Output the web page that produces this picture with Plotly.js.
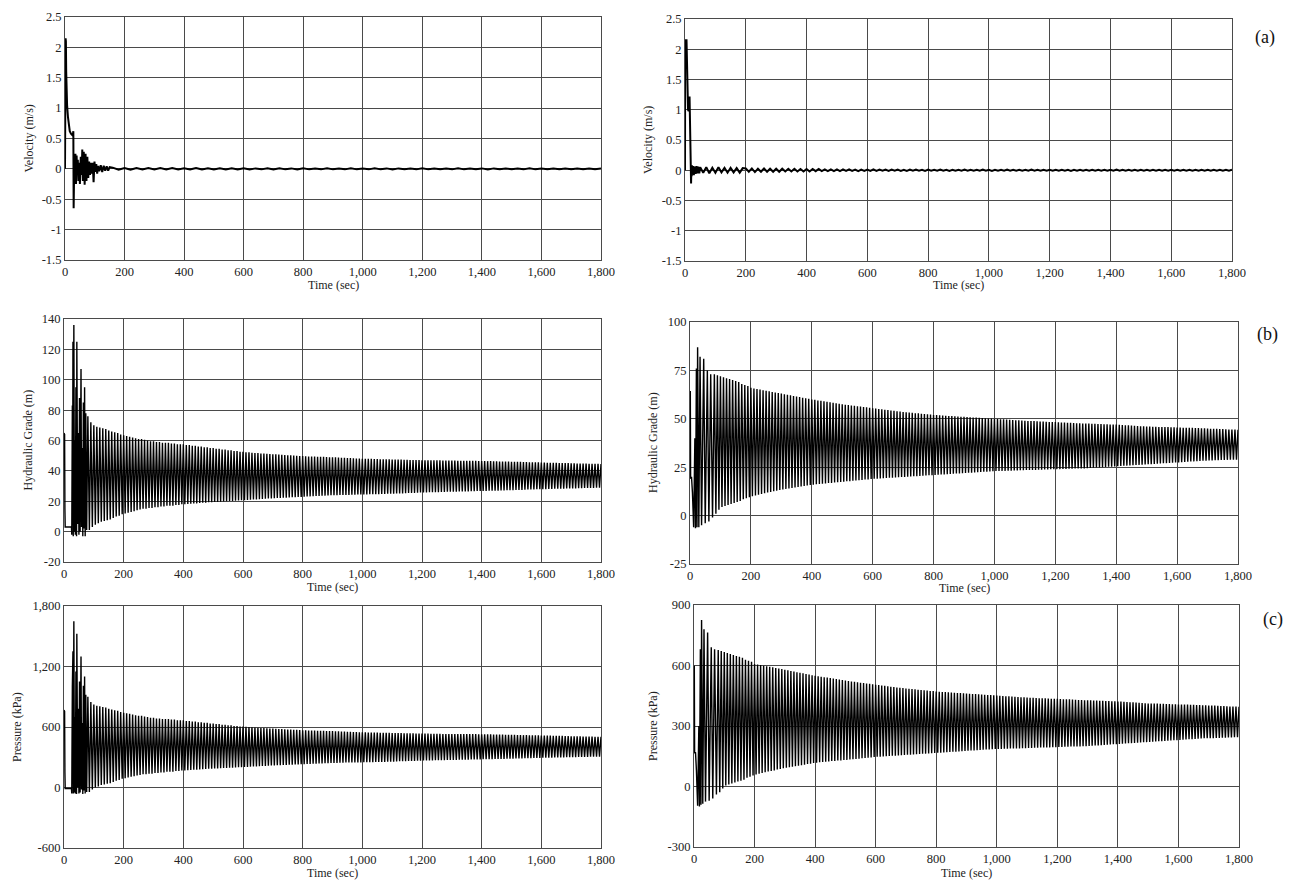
<!DOCTYPE html>
<html>
<head>
<meta charset="utf-8">
<script src="https://cdn.plot.ly/plotly-3.0.1.min.js"></script>
<style>html,body{margin:0;padding:0;background:#fff;}#chart{width:1298px;height:881px;}</style>
</head>
<body>
<div id="chart"></div>
<script>
// ---------------- tick labels ----------------
const X_TICKS = [0,200,400,600,800,1000,1200,1400,1600,1800];
const X_TICKTEXT = ['0','200','400','600','800','1,000','1,200','1,400','1,600','1,800'];
const VEL_TICKS = [-1.5,-1,-0.5,0,0.5,1,1.5,2,2.5];
const VEL_TICKTEXT = ['-1.5','-1','-0.5','0','0.5','1','1.5','2','2.5'];
const HL_TICKS = [-20,0,20,40,60,80,100,120,140];
const HL_TICKTEXT = ['-20','0','20','40','60','80','100','120','140'];
const HR_TICKS = [-25,0,25,50,75,100];
const HR_TICKTEXT = ['-25','0','25','50','75','100'];
const PL_TICKS = [-600,0,600,1200,1800];
const PL_TICKTEXT = ['-600','0','600','1,200','1,800'];
const PR_TICKS = [-300,0,300,600,900];
const PR_TICKTEXT = ['-300','0','300','600','900'];
const PANEL_LABELS = ['(a)','(b)','(c)'];

// ---------------- (a) velocity, left ----------------
const velL_early_t = [0,1,2,3,4,5,7,10,13,16,20,24,27,28,29,31,33,35,37,39,41,43,45,48,50,53,56,58,60,63,66,69,72,75,78,81,84,87,90,93,96,99,102,105,108,111,115,120,125,130,135,140,145,150];
const velL_early_v = [0,1.2,2.15,2.1,1.6,1.3,1.05,0.85,0.7,0.62,0.58,0.56,0.58,0.62,-0.65,0.05,-0.2,0.25,-0.25,0.22,-0.1,0.15,-0.2,0.1,-0.25,0.2,-0.1,0.32,-0.2,0.28,-0.26,0.25,-0.2,0.2,-0.15,0.12,-0.1,0.1,-0.08,0.1,-0.22,0.12,-0.05,0.08,-0.08,0.05,-0.04,0.06,-0.05,0.05,-0.03,0.04,-0.03,0.03];
const velL_tail_start = 160, velL_tail_step = 20;
const velL_tail = [
 0.02,-0.015,0.015,-0.015,0.015,-0.01,0.015,-0.01,0.015,-0.01,
 0.015,-0.01,0.01,-0.01,0.015,-0.008,0.01,-0.01,0.01,-0.008,
 0.01,-0.008,0.01,-0.01,0.008,-0.008,0.01,-0.008,0.01,-0.008,
 0.008,-0.01,0.01,-0.008,0.008,-0.008,0.01,-0.008,0.008,-0.008,
 0.01,-0.008,0.008,-0.008,0.01,-0.008,0.008,-0.01,0.008,-0.008,
 0.008,-0.008,0.01,-0.008,0.008,-0.008,0.008,-0.008,0.01,-0.008,
 0.008,-0.008,0.008,-0.01,0.008,-0.008,0.008,-0.008,0.008,-0.008,
 0.01,-0.008,0.008,-0.008,0.008,-0.008,0.008,-0.008,0.008,-0.008,
 0.008,-0.008,0.008];

// ---------------- (a) velocity, right ----------------
const velR_early_t = [0,0.5,5,6,7,8,10,12,14,15,16,17,18,19,20,21,22,23,25,27,29,32,35,38,41,44,47];
const velR_early_v = [0,2.15,2.15,1.75,1.3,1.08,1.0,0.98,1.0,1.22,0.7,0.3,0.12,0.25,-0.22,0.05,-0.1,0.08,-0.05,0.07,-0.08,0.06,-0.06,0.07,-0.05,0.06,-0.05];
const velR_tail_start = 50, velR_tail_step = 10;
const velR_tail = [
 0.05,-0.04,0.05,-0.05,0.04,-0.04,0.05,-0.035,0.04,-0.04,0.04,-0.035,0.035,-0.04,0.035,
 0.03,-0.025,0.03,-0.03,0.025,-0.025,0.03,-0.025,0.025,-0.025,0.025,-0.025,0.025,-0.02,0.025,
 -0.02,0.025,-0.02,0.02,-0.02,0.02,-0.02,0.02,-0.015,0.02,-0.015,0.015,-0.015,0.015,-0.015,
 0.015,-0.015,0.015,-0.01,0.015,-0.01,0.01,-0.015,0.01,-0.01,
 0.01,-0.01,0.015,-0.01,0.01,-0.008,0.01,-0.01,0.01,-0.008,
 0.01,-0.01,0.008,-0.01,0.01,-0.008,0.01,-0.008,0.008,-0.01,
 0.01,-0.008,0.008,-0.008,0.01,-0.008,0.008,-0.01,0.008,-0.008,
 0.008,-0.008,0.01,-0.008,0.008,-0.008,0.008,-0.008,0.01,-0.008,
 0.008,-0.01,0.008,-0.008,0.008,-0.008,0.01,-0.008,0.008,-0.008,
 0.008,-0.008,0.008,-0.008,0.01,-0.008,0.008,-0.008,0.008,-0.008,
 0.008,-0.008,0.008,-0.008,0.008,-0.008,0.008,-0.01,0.008,-0.008,
 0.008,-0.008,0.008,-0.008,0.008,-0.008,0.008,-0.008,0.008,-0.008,
 0.008,-0.008,0.01,-0.008,0.008,-0.008,0.008,-0.008,0.008,-0.008,
 0.008,-0.008,0.008,-0.008,0.008,-0.008,0.008,-0.008,0.008,-0.008,
 0.008,-0.008,0.008,-0.008,0.008,-0.008,0.008,-0.008,0.008,-0.008,
 0.008,-0.008,0.008,-0.008,0.008,-0.008,0.008,-0.008,0.008,-0.008,
 0.008];

// ---------------- oscillation timing (peaks every 10 s, troughs between) ----------------
const OSC_START = 80, OSC_PERIOD = 10;

// ---------------- (b) hydraulic grade, left ----------------
const hgL_early_t = [0,2,3,4,25,26,28,29,30,31,33,35,37,38,40,42,43,46,48,50,52,54,57,59,61,63,65,67,69,71,73,76];
const hgL_early_v = [65,64,15,3,3,-2,83,20,125,-3,136,0,60,-2,95,-3,125,5,65,-2,88,0,107,3,55,-3,85,2,95,-3,78,1];
const hgL_peaks = [
 76,72,
 70,69,68.5,68,67.5,66.5,66,65.5,65,64,
 63.5,63,62.5,62,61.5,61,61,60.5,60,59.5,
 59.5,59,59,58.5,58.5,58.5,58,58,57.5,57.5,
 57.5,57,57,56.5,56.5,56,56,55.5,55.5,55,
 55,54.5,54.5,54,54,53.5,53.5,53,53,52.5,
 52.5,52.3,52.2,52,51.8,51.7,51.5,51.4,51.2,51.1,
 51,50.9,50.7,50.6,50.5,50.3,50.2,50.1,50,49.8,
 49.7,49.6,49.5,49.5,49.4,49.3,49.2,49.2,49.1,49,
 49,48.9,48.8,48.7,48.6,48.5,48.4,48.3,48.2,48.1,
 48,48,47.9,47.9,47.8,47.8,47.7,47.7,47.6,47.6,
 47.5,47.5,47.4,47.4,47.3,47.3,47.2,47.2,47.1,47.1,
 47,47,47,46.9,46.9,46.9,46.9,46.8,46.8,46.8,
 46.8,46.8,46.7,46.7,46.7,46.7,46.6,46.6,46.6,46.5,
 46.5,46.5,46.4,46.4,46.3,46.3,46.2,46.2,46.1,46.1,
 46,46,45.9,45.9,45.8,45.8,45.7,45.7,45.6,45.6,
 45.5,45.5,45.4,45.4,45.3,45.3,45.2,45.2,45.1,45.1,
 45,45,44.9,44.9,44.8,44.8,44.7,44.7,44.6,44.6,
 44.5];
const hgL_troughs = [
 1,3,
 4.5,5.5,6.5,7,7.5,8,9,10,10.5,11.5,
 12,12.5,13,13.5,14,14.5,15,15,15.5,15.5,
 16,16,16.5,16.5,17,17,17,17.5,17.5,18,
 18,18.2,18.3,18.5,18.6,18.8,19,19.1,19.3,19.4,
 19.5,19.6,19.7,19.9,20,20.1,20.2,20.4,20.5,20.6,
 20.7,20.8,21,21.1,21.2,21.4,21.5,21.6,21.8,21.9,
 22,22.1,22.2,22.3,22.4,22.5,22.6,22.7,22.8,22.9,
 23,23.1,23.2,23.3,23.4,23.5,23.6,23.7,23.8,23.9,
 24,24,24.1,24.1,24.2,24.2,24.3,24.3,24.4,24.4,
 24.5,24.5,24.6,24.6,24.7,24.7,24.8,24.8,24.9,24.9,
 25,25.1,25.2,25.2,25.3,25.4,25.5,25.5,25.6,25.7,
 25.8,25.8,25.9,25.9,26,26,26.1,26.1,26.2,26.2,
 26.3,26.3,26.4,26.4,26.5,26.5,26.6,26.6,26.7,26.7,
 26.8,26.8,26.9,26.9,27,27,27.1,27.1,27.2,27.2,
 27.3,27.4,27.4,27.5,27.6,27.7,27.7,27.8,27.9,27.9,
 28,28,28.1,28.1,28.2,28.2,28.3,28.3,28.4,28.4,
 28.5,28.5,28.6,28.6,28.7,28.7,28.8,28.8,28.9,28.9];

// ---------------- (b) hydraulic grade, right ----------------
const hgR_early_t = [0,1,2,5,8,12,16,18,21,23,25,29,33,38,45,50,57,62,68,74];
const hgR_early_v = [64,64,19,20,12,-6,40,-6.5,76,-6,87,-6,82,-5,81,-4,75,-3,73,-1];
const hgR_peaks = [
 73,72.5,
 72,71.5,71,70.5,70,69.5,69,68,67.5,67,
 66,65.7,65.4,65.1,64.8,64.5,64.2,63.9,63.6,63.3,
 63,62.7,62.4,62.1,61.8,61.5,61.2,60.9,60.6,60.3,
 60,59.8,59.5,59.3,59,58.8,58.5,58.3,58,57.8,
 57.5,57.3,57.1,56.9,56.7,56.5,56.3,56.1,55.9,55.7,
 55.5,55.3,55.1,54.9,54.7,54.5,54.3,54.1,53.9,53.7,
 53.5,53.4,53.2,53.1,52.9,52.8,52.6,52.5,52.3,52.2,
 52,51.9,51.8,51.7,51.6,51.5,51.4,51.3,51.2,51.1,
 51,50.9,50.8,50.7,50.6,50.5,50.4,50.3,50.2,50.1,
 50,49.9,49.8,49.7,49.6,49.5,49.4,49.3,49.2,49.1,
 49,48.9,48.9,48.8,48.7,48.6,48.6,48.5,48.4,48.4,
 48.3,48.2,48.1,48.1,48,47.9,47.8,47.7,47.7,47.6,
 47.5,47.5,47.4,47.4,47.3,47.3,47.2,47.2,47.1,47.1,
 47,46.9,46.8,46.7,46.6,46.5,46.4,46.3,46.2,46.1,
 46,46,45.9,45.9,45.8,45.8,45.7,45.7,45.6,45.6,
 45.5,45.5,45.4,45.4,45.3,45.3,45.2,45.2,45.1,45.1,
 45,44.9,44.9,44.8,44.7,44.7,44.6,44.5,44.5,44.4,
 44.3];
const hgR_troughs = [
 1,3,
 4.5,5,5.5,6,6.5,7,7.5,8.5,9,9.5,
 10,10.4,10.8,11.2,11.5,11.9,12.2,12.6,12.9,13.2,
 13.5,13.8,14,14.3,14.5,14.8,15,15.3,15.5,15.8,
 16,16.2,16.3,16.5,16.6,16.8,16.9,17.1,17.2,17.4,
 17.5,17.7,17.8,18,18.1,18.3,18.4,18.6,18.7,18.9,
 19,19.1,19.2,19.3,19.4,19.5,19.6,19.7,19.8,19.9,
 20,20.1,20.2,20.3,20.4,20.5,20.6,20.7,20.8,20.9,
 21,21.1,21.2,21.3,21.4,21.5,21.6,21.7,21.8,21.9,
 22,22.1,22.2,22.3,22.4,22.5,22.6,22.7,22.8,22.9,
 23,23,23.1,23.1,23.2,23.2,23.3,23.3,23.4,23.4,
 23.5,23.5,23.6,23.6,23.7,23.7,23.8,23.8,23.9,23.9,
 24,24,24.1,24.1,24.2,24.2,24.3,24.3,24.4,24.4,
 24.5,24.6,24.7,24.8,24.9,25,25.1,25.2,25.3,25.4,
 25.5,25.6,25.7,25.8,25.9,26,26.1,26.2,26.3,26.4,
 26.5,26.6,26.7,26.8,26.9,27,27.1,27.2,27.3,27.4,
 27.5,27.6,27.7,27.8,27.9,28,28.1,28.2,28.3,28.4,
 28.5,28.5,28.6,28.6,28.7,28.7,28.8,28.8,28.9,28.9];

// ---------------- (c) pressure, left ----------------
const prL_early_t = [0,2,3,4,25,26,28,29,30,31,33,35,37,38,40,42,43,46,48,50,52,54,57,59,61,63,65,67,69,71,73,76];
const prL_early_v = [768,755,150,-10,-10,-60,1000,200,1350,-60,1650,-50,700,-60,1150,-65,1525,0,780,-60,1050,-50,1300,-20,640,-65,1010,-30,1100,-60,920,-45];
const prL_peaks = [
 900,849,
 824,811,805,799,793,780,774,767,761,748,
 742,736,730,723,717,711,711,704,698,692,
 692,685,685,679,679,679,673,673,667,667,
 667,660,660,654,654,648,648,641,641,635,
 635,629,629,622,622,616,616,610,610,604,
 604,601,600,597,595,593,591,590,587,586,
 585,583,581,580,578,576,575,573,572,569,
 568,567,566,566,564,563,562,562,561,559,
 559,558,557,556,554,553,552,551,549,548,
 547,547,546,546,544,544,543,543,542,542,
 541,541,539,539,538,538,537,537,535,535,
 534,534,534,532,532,532,532,531,531,531,
 531,531,530,530,530,530,529,529,529,528,
 528,528,527,527,525,525,524,524,523,523,
 522,522,520,520,519,519,518,518,517,517,
 515,515,514,514,513,513,512,512,510,510,
 509,509,508,508,506,506,505,505,504,504,
 503];
const prL_troughs = [
 -45,-20,
 -1,11,24,30,37,43,55,68,74,87,
 93,100,106,112,118,125,131,131,137,137,
 144,144,150,150,156,156,156,163,163,169,
 169,171,173,175,176,179,181,183,185,186,
 188,189,190,193,194,195,197,199,200,202,
 203,204,207,208,209,212,213,214,217,218,
 219,220,222,223,224,226,227,228,229,231,
 232,233,234,236,237,238,239,241,242,243,
 244,244,246,246,247,247,248,248,249,249,
 251,251,252,252,253,253,254,254,256,256,
 257,258,260,260,261,262,263,263,265,266,
 267,267,268,268,270,270,271,271,272,272,
 273,273,275,275,276,276,277,277,278,278,
 280,280,281,281,282,282,283,283,285,285,
 286,287,287,289,290,291,291,292,294,294,
 295,295,296,296,297,297,299,299,300,300,
 301,301,302,302,304,304,305,305,306,306];

// ---------------- (c) pressure, right ----------------
const prR_early_t = [0,1,2,5,8,12,16,18,21,23,25,29,33,38,45,50,57,62,68,74];
const prR_early_v = [595,595,165,170,80,-95,300,-99,680,-90,826,-85,780,-75,764,-70,690,-60,680,-40];
const prR_peaks = [
 677,672,
 667,662,657,652,647,643,638,628,623,618,
 608,605,602,599,596,594,591,588,585,582,
 579,576,573,570,567,564,561,558,555,552,
 549,547,544,542,540,538,535,533,530,528,
 525,523,521,519,517,515,513,511,509,507,
 505,503,501,499,497,495,493,491,490,488,
 486,485,483,482,480,479,477,476,474,473,
 471,470,469,468,467,466,465,464,463,462,
 461,460,459,458,457,456,455,454,453,452,
 451,450,449,448,447,446,445,444,443,442,
 441,440,440,439,438,437,437,436,435,435,
 435,434,433,433,432,431,430,429,429,428,
 427,427,426,426,425,425,424,424,423,423,
 422,421,420,419,418,417,416,415,414,413,
 412,412,411,411,410,410,409,409,408,408,
 407,407,406,406,405,405,404,404,403,403,
 402,401,401,400,399,399,398,397,397,396,
 395];
const prR_troughs = [
 -29,-10,
 5,10,15,20,25,29,34,44,49,54,
 59,63,67,71,74,77,80,84,87,90,
 93,96,98,101,103,106,108,111,113,116,
 118,120,121,123,124,126,127,129,129,131,
 132,134,135,137,138,140,141,143,144,146,
 147,148,149,150,151,152,153,154,155,156,
 157,158,159,160,161,162,163,164,165,166,
 167,168,169,170,171,172,173,174,175,176,
 177,178,179,180,181,182,183,184,185,186,
 186,186,187,187,188,188,189,189,190,190,
 191,191,192,192,193,193,194,194,195,195,
 196,196,197,197,198,198,199,199,200,200,
 201,202,203,204,205,206,207,208,209,210,
 211,212,213,214,215,216,217,218,219,220,
 221,222,223,224,225,226,227,228,229,230,
 231,232,233,234,235,236,237,238,239,240,
 240,240,241,241,242,242,243,243,244,244];

// ---------------- series builders ----------------
function withTail(et, ev, start, step, tail) {
  const x = et.slice(), y = ev.slice();
  tail.forEach((v, i) => { x.push(start + i * step); y.push(v); });
  return {x, y};
}
function withOsc(et, ev, peaks, troughs) {
  const x = et.slice(), y = ev.slice();
  peaks.forEach((p, k) => {
    x.push(OSC_START + k * OSC_PERIOD); y.push(p);
    if (k < troughs.length) { x.push(OSC_START + k * OSC_PERIOD + OSC_PERIOD / 2); y.push(troughs[k]); }
  });
  return {x, y};
}

const series = [
  withTail(velL_early_t, velL_early_v, velL_tail_start, velL_tail_step, velL_tail),
  withTail(velR_early_t, velR_early_v, velR_tail_start, velR_tail_step, velR_tail),
  withOsc(hgL_early_t, hgL_early_v, hgL_peaks, hgL_troughs),
  withOsc(hgR_early_t, hgR_early_v, hgR_peaks, hgR_troughs),
  withOsc(prL_early_t, prL_early_v, prL_peaks, prL_troughs),
  withOsc(prR_early_t, prR_early_v, prR_peaks, prR_troughs)
];

// ---------------- layout (pixel boxes) ----------------
const W = 1298, H = 881;
const panels = [
  {box:[65,601,17,260],  yr:[-1.5,2.5], yt:VEL_TICKS, ytt:VEL_TICKTEXT, title:'Velocity (m/s)',      tx:28,  lw:2},
  {box:[685,1232,19,261],yr:[-1.5,2.5], yt:VEL_TICKS, ytt:VEL_TICKTEXT, title:'Velocity (m/s)',      tx:648, lw:2},
  {box:[64,601,319,562], yr:[-20,140],  yt:HL_TICKS,  ytt:HL_TICKTEXT,  title:'Hydraulic Grade (m)', tx:27,  lw:1.4},
  {box:[690,1238,322,564],yr:[-25,100], yt:HR_TICKS,  ytt:HR_TICKTEXT,  title:'Hydraulic Grade (m)', tx:653, lw:1.4},
  {box:[64,601,606,848], yr:[-600,1800],yt:PL_TICKS,  ytt:PL_TICKTEXT,  title:'Pressure (kPa)',      tx:17,  lw:1.4},
  {box:[694,1239,605,847],yr:[-300,900],yt:PR_TICKS,  ytt:PR_TICKTEXT,  title:'Pressure (kPa)',      tx:653, lw:1.4}
];
const xTitleY = [285,285,587,588,873,873];
const labelPos = [[1265,38],[1267,335],[1273,619]];

const FONT = "'Liberation Serif', 'Times New Roman', serif";
const GRID = '#4a4a4a';
const layout = {
  width: W, height: H,
  margin: {l:0, r:0, t:0, b:0},
  paper_bgcolor: '#ffffff', plot_bgcolor: '#ffffff',
  showlegend: false,
  font: {family: FONT, color: '#222', size: 12},
  annotations: []
};
const data = [];
panels.forEach((p, i) => {
  const n = i === 0 ? '' : String(i + 1);
  const [x0, x1, y0, y1] = p.box;
  layout['xaxis' + n] = {
    domain: [x0 / W, x1 / W], anchor: 'y' + n, range: [0, 1800],
    tickmode: 'array', tickvals: X_TICKS, ticktext: X_TICKTEXT,
    showgrid: true, gridcolor: GRID, gridwidth: 1,
    showline: true, linecolor: GRID, linewidth: 1, mirror: true,
    zeroline: false, ticks: '', automargin: false, fixedrange: true,
    tickfont: {family: FONT, size: 12.5, color: '#222'}
  };
  layout['yaxis' + n] = {
    domain: [1 - y1 / H, 1 - y0 / H], anchor: 'x' + n, range: p.yr,
    tickmode: 'array', tickvals: p.yt, ticktext: p.ytt,
    showgrid: true, gridcolor: GRID, gridwidth: 1,
    showline: true, linecolor: GRID, linewidth: 1, mirror: true,
    zeroline: false, ticks: '', automargin: false, fixedrange: true,
    tickfont: {family: FONT, size: 12.5, color: '#222'}
  };
  data.push({
    type: 'scatter', mode: 'lines', x: series[i].x, y: series[i].y,
    xaxis: 'x' + n, yaxis: 'y' + n,
    line: {color: '#000', width: p.lw}, hoverinfo: 'skip'
  });
  layout.annotations.push({
    xref: 'paper', yref: 'paper', x: p.tx / W, y: 1 - ((y0 + y1) / 2) / H,
    text: p.title, textangle: -90, showarrow: false,
    xanchor: 'center', yanchor: 'middle', font: {family: FONT, size: 12, color: '#222'}
  });
  layout.annotations.push({
    xref: 'paper', yref: 'paper', x: ((x0 + x1) / 2) / W, y: 1 - xTitleY[i] / H,
    text: 'Time (sec)', showarrow: false,
    xanchor: 'center', yanchor: 'middle', font: {family: FONT, size: 12, color: '#222'}
  });
});
PANEL_LABELS.forEach((t, k) => {
  layout.annotations.push({
    xref: 'paper', yref: 'paper', x: labelPos[k][0] / W, y: 1 - labelPos[k][1] / H,
    text: t, showarrow: false, xanchor: 'center', yanchor: 'middle',
    font: {family: FONT, size: 18, color: '#111'}
  });
});

Plotly.newPlot('chart', data, layout, {staticPlot: true, displayModeBar: false});
</script>
</body>
</html>
